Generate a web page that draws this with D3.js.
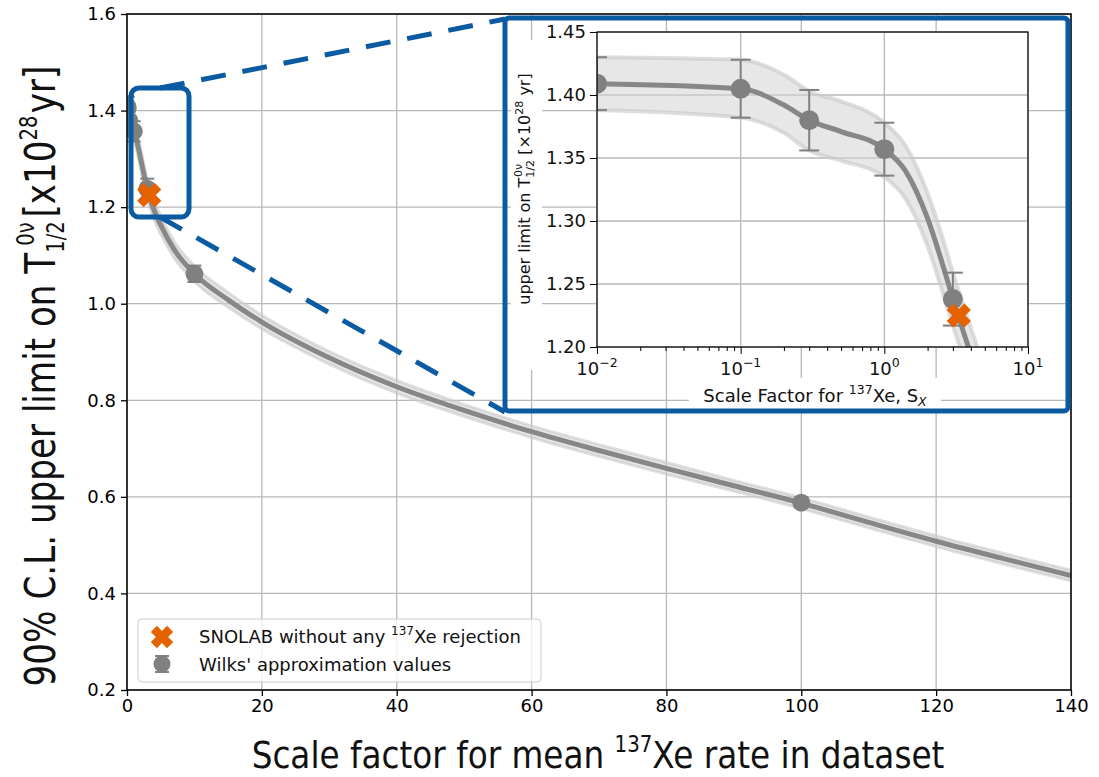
<!DOCTYPE html>
<html><head><meta charset="utf-8">
<script src="https://cdn.jsdelivr.net/npm/d3@7"></script>
<style>body{margin:0;background:#fff}svg{display:block}text{font-family:"DejaVu Sans",sans-serif}</style>
</head><body>
<svg id="c" width="1099" height="777"></svg>
<script>
// ---------- data ----------
const curveX   = [0.01, 0.1, 0.2, 0.3, 0.5, 1, 1.4, 2, 2.6, 3, 3.85, 5, 7, 10, 15, 20, 30, 40, 50, 60, 70, 80, 90, 100, 110, 120, 130, 140];
const curveY   = [1.409, 1.405, 1.392, 1.380, 1.371, 1.357, 1.340, 1.302, 1.262, 1.238, 1.200, 1.163, 1.112, 1.062, 1.008, 0.962, 0.888, 0.828, 0.779, 0.735, 0.696, 0.659, 0.623, 0.587, 0.547, 0.508, 0.472, 0.437];
const bandHigh = [1.430, 1.428, 1.416, 1.403, 1.395, 1.378, 1.360, 1.322, 1.283, 1.259, 1.221, 1.182, 1.129, 1.078, 1.023, 0.976, 0.901, 0.841, 0.791, 0.747, 0.708, 0.671, 0.634, 0.598, 0.558, 0.519, 0.483, 0.448];
const bandLow  = [1.388, 1.382, 1.370, 1.356, 1.348, 1.335, 1.318, 1.280, 1.240, 1.217, 1.180, 1.144, 1.095, 1.046, 0.993, 0.948, 0.875, 0.815, 0.767, 0.723, 0.684, 0.647, 0.612, 0.576, 0.536, 0.497, 0.461, 0.426];
const pointX   = [0.01, 0.1, 0.3, 1, 3, 10, 100];
const pointY   = [1.409, 1.405, 1.380, 1.357, 1.238, 1.062, 0.588];
const pointErr = [0.021, 0.023, 0.024, 0.021, 0.021, 0.017, 0.010];
const snolabX  = [3.3];
const snolabY  = [1.225];
const xTicks   = [0, 20, 40, 60, 80, 100, 120, 140];
const yTicks   = [0.2, 0.4, 0.6, 0.8, 1.0, 1.2, 1.4, 1.6];
const insetXTicks = [0.01, 0.1, 1, 10];
const insetXTickExp = ["\u22122", "\u22121", "0", "1"];
const insetYTicks = [1.20, 1.25, 1.30, 1.35, 1.40, 1.45];
const legendLabels = ["SNOLAB without any ", "Wilks' approximation values"];

// ---------- colours ----------
const GRAY = "#878787", MARK = "#808080", ORANGE = "#e66100", BLUE = "#0b5ba3", GRID = "#b8b8b8";

const svg = d3.select("#c");
const idx = d3.range(curveX.length);

function xMarker(g, cx, cy, s, w, fill) {
  const p = [[w,s],[w,w],[s,w],[s,-w],[w,-w],[w,-s],[-w,-s],[-w,-w],[-s,-w],[-s,w],[-w,w],[-w,s]];
  const c = Math.SQRT1_2;
  const pts = p.map(([a,b]) => [cx + (a - b) * c, cy + (a + b) * c]);
  g.append("path").attr("d", "M" + pts.map(d => d.join(",")).join("L") + "Z").attr("fill", fill);
}

// ---------- main plot ----------
const M = {l:127, r:1071, t:14, b:690};
const x = d3.scaleLinear().domain([0, 140]).range([M.l, M.r]);
const y = d3.scaleLinear().domain([0.2, 1.6]).range([M.b, M.t]);

svg.append("clipPath").attr("id", "mclip").append("rect")
  .attr("x", M.l).attr("y", M.t).attr("width", M.r - M.l).attr("height", M.b - M.t);

const grid = svg.append("g");
xTicks.forEach(v => grid.append("line").attr("x1", x(v)).attr("x2", x(v)).attr("y1", M.t).attr("y2", M.b)
  .attr("stroke", GRID).attr("stroke-width", 1.3));
yTicks.forEach(v => grid.append("line").attr("y1", y(v)).attr("y2", y(v)).attr("x1", M.l).attr("x2", M.r)
  .attr("stroke", GRID).attr("stroke-width", 1.3));

const mg = svg.append("g").attr("clip-path", "url(#mclip)");
function drawSeries(g, xs, ys, lw, bandEdge, r, cap) {
  g.append("path").datum(idx)
    .attr("d", d3.area().x(i => xs(curveX[i])).y0(i => ys(bandLow[i])).y1(i => ys(bandHigh[i])).curve(d3.curveMonotoneX))
    .attr("fill", "#d4d4d4").attr("fill-opacity", 0.55);
  [bandHigh, bandLow].forEach(arr => g.append("path").datum(idx)
    .attr("d", d3.line().x(i => xs(curveX[i])).y(i => ys(arr[i])).curve(d3.curveMonotoneX))
    .attr("fill", "none").attr("stroke", "#c8c8c8").attr("stroke-opacity", 0.6).attr("stroke-width", bandEdge));
  g.append("path").datum(idx)
    .attr("d", d3.line().x(i => xs(curveX[i])).y(i => ys(curveY[i])).curve(d3.curveMonotoneX))
    .attr("fill", "none").attr("stroke", GRAY).attr("stroke-width", lw);
  pointX.forEach((px, i) => {
    const cx = xs(px), y1 = ys(pointY[i] + pointErr[i]), y2 = ys(pointY[i] - pointErr[i]);
    g.append("line").attr("x1", cx).attr("x2", cx).attr("y1", y1).attr("y2", y2).attr("stroke", MARK).attr("stroke-width", 2);
    [y1, y2].forEach(yy => g.append("line").attr("x1", cx - cap).attr("x2", cx + cap).attr("y1", yy).attr("y2", yy)
      .attr("stroke", MARK).attr("stroke-width", 2));
    g.append("circle").attr("cx", cx).attr("cy", ys(pointY[i])).attr("r", r).attr("fill", MARK);
  });
  snolabX.forEach((sx, i) => xMarker(g, xs(sx), ys(snolabY[i]), 12.5, 4.6, ORANGE));
}
drawSeries(mg, x, y, 5, 3, 9, 7);

// axes
const ax = svg.append("g").attr("transform", `translate(0,${M.b})`)
  .call(d3.axisBottom(x).tickValues(xTicks).tickSize(6).tickSizeOuter(0).tickPadding(3).tickFormat(d3.format("d")));
ax.selectAll("text").attr("font-size", 18).attr("font-family", "DejaVu Sans").attr("fill", "#000");
const ay = svg.append("g").attr("transform", `translate(${M.l},0)`)
  .call(d3.axisLeft(y).tickValues(yTicks).tickSize(6).tickSizeOuter(0).tickPadding(5).tickFormat(d3.format(".1f")));
ay.selectAll("text").attr("font-size", 18).attr("font-family", "DejaVu Sans").attr("fill", "#000");
[ax, ay].forEach(a => { a.select(".domain").remove(); a.selectAll(".tick line").attr("stroke-width", 1.3); });
svg.append("rect").attr("x", M.l).attr("y", M.t).attr("width", M.r - M.l).attr("height", M.b - M.t)
  .attr("fill", "none").attr("stroke", "#000").attr("stroke-width", 1.5);

// axis titles
function fitGroup(g, target) {
  const w = g.select("text").node().getBBox().width;
  return target / w;
}
const xt = svg.append("g");
const xtText = xt.append("text").attr("text-anchor", "middle").attr("font-family", "Open Sans").attr("font-size", 38).attr("fill", "#111");
xtText.append("tspan").text("Scale factor for mean ");
xtText.append("tspan").text("137").attr("font-size", 23).attr("dy", -16);
xtText.append("tspan").text("Xe rate in dataset").attr("dy", 16);
xt.attr("transform", `translate(598,768) scale(${fitGroup(xt, 693)},1)`);

const yt = svg.append("g");
const ytText = yt.append("text").attr("text-anchor", "middle").attr("font-family", "Open Sans").attr("font-size", 42).attr("fill", "#111");
ytText.append("tspan").text("90% C.L. upper limit on T");
ytText.append("tspan").text("1/2").attr("font-size", 24).attr("dy", 9);
const subW = 24 * 1.25;
ytText.append("tspan").text("0\u03bd").attr("font-size", 24).attr("dy", -30).attr("dx", -subW);
ytText.append("tspan").text("[x10").attr("dy", 21).attr("dx", 6);
ytText.append("tspan").text("28").attr("font-size", 24).attr("dy", -18);
ytText.append("tspan").text("yr]").attr("dy", 18).attr("dx", 3);
yt.attr("transform", `translate(55,376) rotate(-90) scale(${fitGroup(yt, 621)},1)`);

// legend
const lg = svg.append("g");
lg.append("rect").attr("x", 138).attr("y", 619).attr("width", 403).attr("height", 63).attr("rx", 4)
  .attr("fill", "#fff").attr("fill-opacity", 0.8).attr("stroke", "#cccccc").attr("stroke-width", 1);
xMarker(lg, 162, 637, 11.5, 4.3, ORANGE);
lg.append("line").attr("x1", 162).attr("x2", 162).attr("y1", 656).attr("y2", 672).attr("stroke", MARK).attr("stroke-width", 2);
[656, 672].forEach(yy => lg.append("line").attr("x1", 155).attr("x2", 169).attr("y1", yy).attr("y2", yy).attr("stroke", MARK).attr("stroke-width", 2));
lg.append("circle").attr("cx", 162).attr("cy", 664).attr("r", 8.5).attr("fill", MARK);
const l1 = lg.append("text").attr("x", 199).attr("y", 643).attr("font-size", 18).attr("fill", "#111");
l1.append("tspan").text(legendLabels[0]);
l1.append("tspan").text("137").attr("font-size", 12).attr("dy", -8);
l1.append("tspan").text("Xe rejection").attr("dy", 8);
lg.append("text").attr("x", 199).attr("y", 671).attr("font-size", 18).attr("fill", "#111").text(legendLabels[1]);

// zoom box + dashed connectors
svg.append("rect").attr("x", 131).attr("y", 88).attr("width", 58).attr("height", 129).attr("rx", 8)
  .attr("fill", "none").attr("stroke", BLUE).attr("stroke-width", 5);
svg.append("line").attr("x1", 160).attr("y1", 88).attr("x2", 505).attr("y2", 19)
  .attr("stroke", BLUE).attr("stroke-width", 5).attr("stroke-dasharray", "25,17");
svg.append("line").attr("x1", 160).attr("y1", 217).attr("x2", 505).attr("y2", 412)
  .attr("stroke", BLUE).attr("stroke-width", 5).attr("stroke-dasharray", "25,17");

// ---------- inset ----------
const I = {l:597, r:1028, t:32, b:347};
const xi = d3.scaleLog().domain([0.01, 10]).range([I.l, I.r]);
const yi = d3.scaleLinear().domain([1.20, 1.45]).range([I.b, I.t]);

svg.append("rect").attr("x", 511).attr("y", 40).attr("width", 31).attr("height", 330).attr("fill", "#fff");
svg.append("rect").attr("x", 689).attr("y", 378).attr("width", 252).attr("height", 32).attr("fill", "#fff");
svg.append("rect").attr("x", I.l).attr("y", I.t).attr("width", I.r - I.l).attr("height", I.b - I.t).attr("fill", "#fff");
svg.append("clipPath").attr("id", "iclip").append("rect")
  .attr("x", I.l).attr("y", I.t).attr("width", I.r - I.l).attr("height", I.b - I.t);

const ig = svg.append("g");
insetXTicks.forEach(v => ig.append("line").attr("x1", xi(v)).attr("x2", xi(v)).attr("y1", I.t).attr("y2", I.b)
  .attr("stroke", GRID).attr("stroke-width", 1.3));
insetYTicks.forEach(v => ig.append("line").attr("y1", yi(v)).attr("y2", yi(v)).attr("x1", I.l).attr("x2", I.r)
  .attr("stroke", GRID).attr("stroke-width", 1.3));
const ic = svg.append("g").attr("clip-path", "url(#iclip)");
drawSeries(ic, xi, yi, 5, 4, 10, 10);

const minor = [];
[0.01, 0.1, 1].forEach(d => { for (let k = 2; k <= 9; k++) minor.push(d * k); });
svg.append("g").attr("transform", `translate(0,${I.b})`)
  .call(d3.axisBottom(xi).tickValues(minor).tickSize(4).tickSizeOuter(0).tickFormat(""))
  .call(a => a.select(".domain").remove());
const iax = svg.append("g").attr("transform", `translate(0,${I.b})`)
  .call(d3.axisBottom(xi).tickValues(insetXTicks).tickSize(7).tickSizeOuter(0).tickFormat(""));
iax.select(".domain").remove();
insetXTicks.forEach((v, i) => {
  const t = svg.append("text").attr("x", xi(v)).attr("y", 375).attr("text-anchor", "middle").attr("font-size", 18).attr("fill", "#111");
  t.append("tspan").text("10");
  t.append("tspan").text(insetXTickExp[i]).attr("font-size", 12.5).attr("dy", -8);
});
const iay = svg.append("g").attr("transform", `translate(${I.l},0)`)
  .call(d3.axisLeft(yi).tickValues(insetYTicks).tickSize(7).tickSizeOuter(0).tickPadding(4).tickFormat(d3.format(".2f")));
iay.select(".domain").remove();
iay.selectAll("text").attr("font-size", 18).attr("font-family", "DejaVu Sans").attr("fill", "#111");
svg.append("rect").attr("x", I.l).attr("y", I.t).attr("width", I.r - I.l).attr("height", I.b - I.t)
  .attr("fill", "none").attr("stroke", "#000").attr("stroke-width", 1.2);

const ixl = svg.append("text").attr("x", 815).attr("y", 402).attr("text-anchor", "middle").attr("font-size", 18).attr("fill", "#111");
ixl.append("tspan").text("Scale Factor for ");
ixl.append("tspan").text("137").attr("font-size", 12.5).attr("dy", -8);
ixl.append("tspan").text("Xe, S").attr("dy", 8);
ixl.append("tspan").text("X").attr("font-size", 12.5).attr("font-style", "italic").attr("dy", 4);

const iyl = svg.append("text").attr("transform", "translate(530,189) rotate(-90)").attr("text-anchor", "middle")
  .attr("font-size", 16).attr("fill", "#111");
iyl.append("tspan").text("upper limit on T");
iyl.append("tspan").text("1/2").attr("font-size", 11).attr("dy", 4);
iyl.append("tspan").text("0\u03bd").attr("font-size", 11).attr("dy", -12).attr("dx", -17);
iyl.append("tspan").text(" [\u00d710").attr("dy", 8).attr("dx", 4);
iyl.append("tspan").text("28").attr("font-size", 11).attr("dy", -7);
iyl.append("tspan").text(" yr]").attr("dy", 7);

svg.append("rect").attr("x", 505).attr("y", 18).attr("width", 563).attr("height", 393).attr("rx", 4)
  .attr("fill", "none").attr("stroke", BLUE).attr("stroke-width", 5);
</script>
</body></html>
